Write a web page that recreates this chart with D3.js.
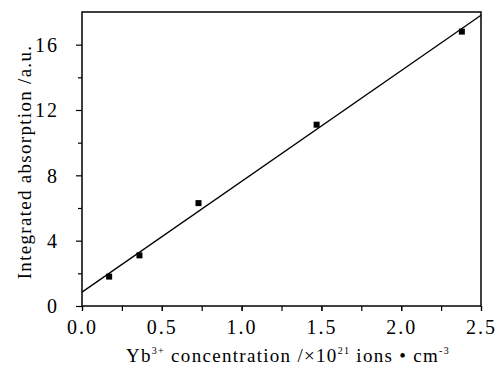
<!DOCTYPE html>
<html>
<head>
<meta charset="utf-8">
<script src="https://cdn.jsdelivr.net/npm/d3@7"></script>
<style>
  body { margin: 0; background: #fff; }
</style>
</head>
<body>
<div class="main"></div>
<script>
// Données
const concentration = [0.17, 0.36, 0.73, 1.47, 2.38];
const absorption = [1.8, 3.1, 6.3, 11.1, 16.8];
// Droite d'ajustement (extrémités)
const fitX = [0, 2.5];
const fitY = [0.85, 17.8];
const xTicks = [0, 0.5, 1.0, 1.5, 2.0, 2.5];
const yTicks = [0, 4, 8, 12, 16];

const width = 502;
const height = 373;
const margin = { top: 12, right: 21, bottom: 67, left: 82 };
const serif = '"Liberation Serif", "Times New Roman", serif';

const svg = d3.select('.main')
  .append('svg')
  .attr('width', width)
  .attr('height', height);

const x = d3.scaleLinear()
  .domain([0, 2.5])
  .range([margin.left, width - margin.right]);

const y = d3.scaleLinear()
  .domain([0, 18])
  .range([height - margin.bottom, margin.top]);

// Graduations mineures
svg.append('g')
  .attr('transform', `translate(0, ${y(0)})`)
  .call(d3.axisBottom(x).tickValues(d3.range(0, 2.51, 0.25)).tickSize(5).tickFormat(''))
  .call(g => g.select('.domain').remove());

svg.append('g')
  .attr('transform', `translate(${x(0)}, 0)`)
  .call(d3.axisLeft(y).tickValues(d3.range(2, 18, 4)).tickSize(4).tickFormat(''))
  .call(g => g.select('.domain').remove());

// Axe horizontal
svg.append('g')
  .attr('transform', `translate(0, ${y(0)})`)
  .call(d3.axisBottom(x).tickValues(xTicks).tickSize(5).tickPadding(9).tickFormat(d3.format('.1f')))
  .call(g => g.select('.domain').remove())
  .call(g => g.selectAll('text').style('font-size', '20px').style('letter-spacing', '2px').style('font-family', serif));

// Axe vertical
svg.append('g')
  .attr('transform', `translate(${x(0)}, 0)`)
  .call(d3.axisLeft(y).tickValues(yTicks).tickSize(6).tickPadding(17))
  .call(g => g.select('.domain').remove())
  .call(g => g.selectAll('text').style('font-size', '20px').style('letter-spacing', '2px').style('font-family', serif).attr('dy', '0.34em'));

svg.selectAll('.tick line').attr('stroke', '#000').attr('stroke-width', 1.2);

// Cadre
svg.append('rect')
  .attr('x', x(0))
  .attr('y', y(18))
  .attr('width', x(2.5) - x(0))
  .attr('height', y(0) - y(18))
  .attr('fill', 'none')
  .attr('stroke', '#000')
  .attr('stroke-width', 1.5);

// Droite
svg.append('path')
  .datum(fitX.map((d, i) => [d, fitY[i]]))
  .attr('fill', 'none')
  .attr('stroke', '#000')
  .attr('stroke-width', 1.3)
  .attr('d', d3.line().x(d => x(d[0])).y(d => y(d[1])));

// Points
svg.append('g')
  .selectAll('rect')
  .data(concentration)
  .enter()
  .append('rect')
  .attr('x', d => x(d) - 3)
  .attr('y', (d, i) => y(absorption[i]) - 3)
  .attr('width', 6)
  .attr('height', 6)
  .attr('fill', '#000');

// Titre axe x
const xl = svg.append('text')
  .attr('x', 288)
  .attr('y', 362)
  .attr('text-anchor', 'middle')
  .style('font-family', serif)
  .style('font-size', '19px')
  .style('letter-spacing', '1.3px');
xl.append('tspan').text('Yb');
xl.append('tspan').text('3+').style('font-size', '10px').attr('dy', -8);
xl.append('tspan').text(' concentration /×10').attr('dy', 8);
xl.append('tspan').text('21').style('font-size', '10px').attr('dy', -8);
xl.append('tspan').text(' ions • cm').attr('dy', 8);
xl.append('tspan').text('-3').style('font-size', '10px').attr('dy', -8);

// Titre axe y
svg.append('text')
  .attr('transform', `translate(31, 162) rotate(-90)`)
  .attr('text-anchor', 'middle')
  .style('font-family', serif)
  .style('font-size', '19px')
  .style('letter-spacing', '1.3px')
  .text('Integrated absorption /a.u.');
</script>
</body>
</html>
